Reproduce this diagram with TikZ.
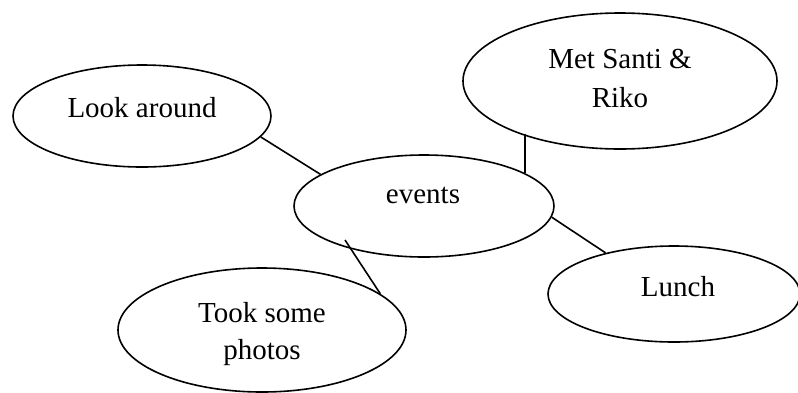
\documentclass[tikz,border=0pt]{standalone}
\usepackage{fontspec}
\setmainfont{Liberation Serif}
\usetikzlibrary{shapes.geometric}
\begin{document}
\begin{tikzpicture}[x=1pt,y=-1pt,
  bubble/.style={ellipse, draw=black, line width=1.6pt, inner sep=0pt, fill=white},
  lbl/.style={anchor=base, inner sep=0pt, font=\fontsize{29}{39}\selectfont},
  link/.style={draw=black, line width=1.6pt}]
\useasboundingbox (0,0) rectangle (798,392);

% ellipses
\node[bubble, minimum width=258pt, minimum height=102pt] (look) at (142,116) {};
\node[bubble, minimum width=314pt, minimum height=136pt] (met) at (620,81) {};
\node[bubble, minimum width=260pt, minimum height=102pt] (events) at (424,206) {};
\node[bubble, minimum width=252pt, minimum height=96pt] (lunch) at (674,294) {};
\node[bubble, minimum width=288pt, minimum height=124pt] (photos) at (262,330) {};

% labels
\node[lbl] (look-t) at (142,117) {Look around};
\node[lbl] (met-t1) at (620,68) {Met Santi \&};
\node[lbl] (met-t2) at (620,107) {Riko};
\node[lbl] (events-t) at (423,203) {events};
\node[lbl] (lunch-t) at (678,296) {Lunch};
\node[lbl] (photos-t1) at (262,322) {Took some};
\node[lbl] (photos-t2) at (262,359) {photos};

% connectors
\coordinate (ev-low) at (345,240);
\draw[link] (look.-10.4) -- (events.163.8);
\draw[link] (events.18.4 |- met.208.6) -- (events.18.4);
\draw[link] (events.-5.5) -- (lunch.149.4);
\draw[link] (ev-low) -- (photos.17.8);
\end{tikzpicture}
\end{document}
